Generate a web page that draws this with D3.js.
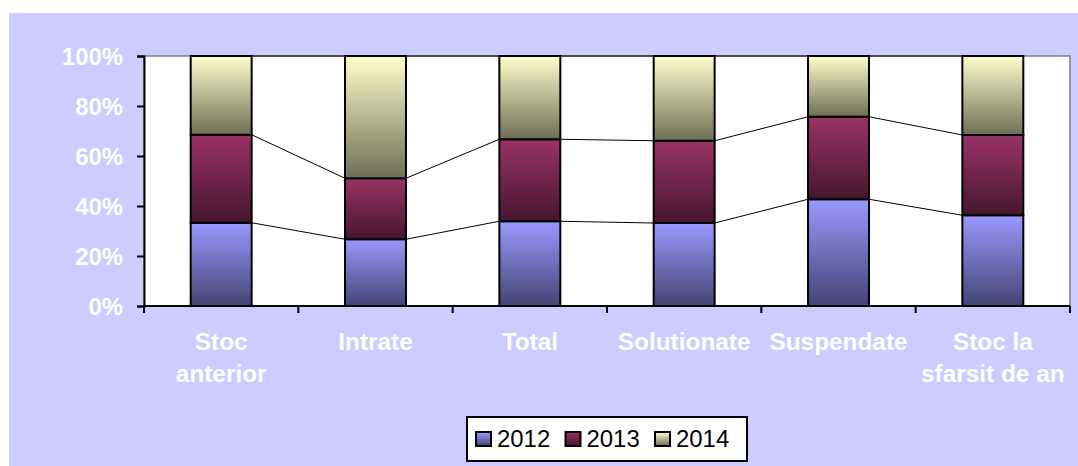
<!DOCTYPE html>
<html><head><meta charset="utf-8">
<script src="https://cdn.jsdelivr.net/npm/d3@7"></script>
<style>html,body{margin:0;padding:0;background:#fff;overflow:hidden}</style>
</head><body><svg id="c" width="1078" height="466"></svg>
<script>
const categories = [["Stoc","anterior"],["Intrate"],["Total"],["Solutionate"],["Suspendate"],["Stoc la","sfarsit de an"]];
const seriesNames = ["2012","2013","2014"];
const v2012 = [33.3, 26.7, 33.9, 33.2, 42.7, 36.3];
const v2013 = [35.2, 24.4, 32.8, 32.9, 33.0, 32.1];
const v2014 = [31.5, 48.9, 33.3, 33.9, 24.3, 31.6];
const yTicks = [0, 20, 40, 60, 80, 100];
const topColors = ["#9999FF", "#993366", "#FFFFCC"];
const bottomColors = ["#444475", "#46162D", "#6E6E56"];

const svg = d3.select("#c");
const W = 1078, H = 466;
const plot = {l: 144, r: 1070, t: 56, b: 306};
const font = "'Liberation Sans', Arial, sans-serif";

// gradients
const defs = svg.append("defs");
seriesNames.forEach((s, i) => {
  const g = defs.append("linearGradient").attr("id", "g" + i)
    .attr("x1", 0).attr("y1", 0).attr("x2", 0).attr("y2", 1);
  g.append("stop").attr("offset", "0%").attr("stop-color", topColors[i]);
  g.append("stop").attr("offset", "100%").attr("stop-color", bottomColors[i]);
});

// background panel
svg.append("rect").attr("x", 9).attr("y", 13).attr("width", W - 9).attr("height", H - 13).attr("fill", "#CCCCFF");

const keys = categories.map(c => c.join(" "));
const x = d3.scaleBand().domain(keys).range([plot.l, plot.r]).padding(0);
const barW = x.bandwidth() * 0.395;
const y = d3.scaleLinear().domain([0, 100]).range([plot.b, plot.t]);

// plot area
svg.append("rect").attr("x", plot.l).attr("y", plot.t).attr("width", plot.r - plot.l).attr("height", plot.b - plot.t)
  .attr("fill", "#fff").attr("stroke", "#808080").attr("stroke-width", 1.5);

const data = keys.map((k, i) => ({key: k, "2012": v2012[i], "2013": v2013[i], "2014": v2014[i]}));
const stacked = d3.stack().keys(seriesNames)(data);

// series lines
stacked.forEach((layer, si) => {
  for (let i = 0; i < layer.length - 1; i++) {
    const x1 = x(keys[i]) + x.bandwidth() / 2 + barW / 2;
    const x2 = x(keys[i + 1]) + x.bandwidth() / 2 - barW / 2;
    svg.append("line").attr("x1", x1).attr("x2", x2)
      .attr("y1", y(layer[i][1])).attr("y2", y(layer[i + 1][1]))
      .attr("stroke", "#000").attr("stroke-width", 1);
  }
});

// bars
stacked.forEach((layer, si) => {
  svg.append("g").selectAll("rect").data(layer).join("rect")
    .attr("x", d => x(d.data.key) + x.bandwidth() / 2 - barW / 2)
    .attr("width", barW)
    .attr("y", d => y(d[1]))
    .attr("height", d => y(d[0]) - y(d[1]))
    .attr("fill", "url(#g" + si + ")")
    .attr("stroke", "#000").attr("stroke-width", 2);
});

// axes
const yAxis = svg.append("g").attr("transform", `translate(${plot.l},0)`)
  .call(d3.axisLeft(y).tickValues(yTicks).tickSize(7).tickFormat(d => d + "%").tickPadding(14));
yAxis.select(".domain").attr("stroke", "#000").attr("stroke-width", 2);
yAxis.selectAll(".tick line").attr("stroke", "#000").attr("stroke-width", 2);
yAxis.selectAll(".tick text").attr("fill", "#fff").attr("font-family", font)
  .attr("font-weight", "bold").attr("font-size", 23).attr("dy", "0.36em")
  .attr("transform", "scale(1.04,1)").attr("x", -21 / 1.04);

const xAxis = svg.append("g").attr("transform", `translate(0,${plot.b})`);
xAxis.append("line").attr("x1", plot.l - 1).attr("x2", plot.r).attr("y1", 0).attr("y2", 0)
  .attr("stroke", "#000").attr("stroke-width", 2);
const bounds = keys.map(k => x(k)).concat([x(keys[keys.length - 1]) + x.bandwidth()]);
xAxis.selectAll("line.t").data(bounds).join("line").attr("class", "t")
  .attr("x1", d => d).attr("x2", d => d).attr("y1", 0).attr("y2", 7)
  .attr("stroke", "#000").attr("stroke-width", 2);

// category labels
categories.forEach((lines, i) => {
  const cx = x(keys[i]) + x.bandwidth() / 2;
  const t = svg.append("text").attr("transform", `translate(${cx},350) scale(1.06,1)`)
    .attr("text-anchor", "middle").attr("fill", "#fff").attr("font-family", font)
    .attr("font-weight", "bold").attr("font-size", 23);
  lines.forEach((ln, j) => t.append("tspan").attr("x", 0).attr("y", j * 32.5).text(ln));
});

// legend
const lg = svg.append("g");
lg.append("rect").attr("x", 467).attr("y", 417).attr("width", 280).attr("height", 44)
  .attr("fill", "#fff").attr("stroke", "#000").attr("stroke-width", 2);
seriesNames.forEach((s, i) => {
  const ix = 475 + i * 89.5;
  lg.append("rect").attr("x", ix + 1).attr("y", 432).attr("width", 15).attr("height", 14)
    .attr("fill", "url(#g" + i + ")").attr("stroke", "#000").attr("stroke-width", 2);
  lg.append("text").attr("transform", `translate(${ix + 22},447) scale(1.04,1)`)
    .attr("font-family", font).attr("font-size", 23).attr("fill", "#000").text(s);
});
</script></body></html>
